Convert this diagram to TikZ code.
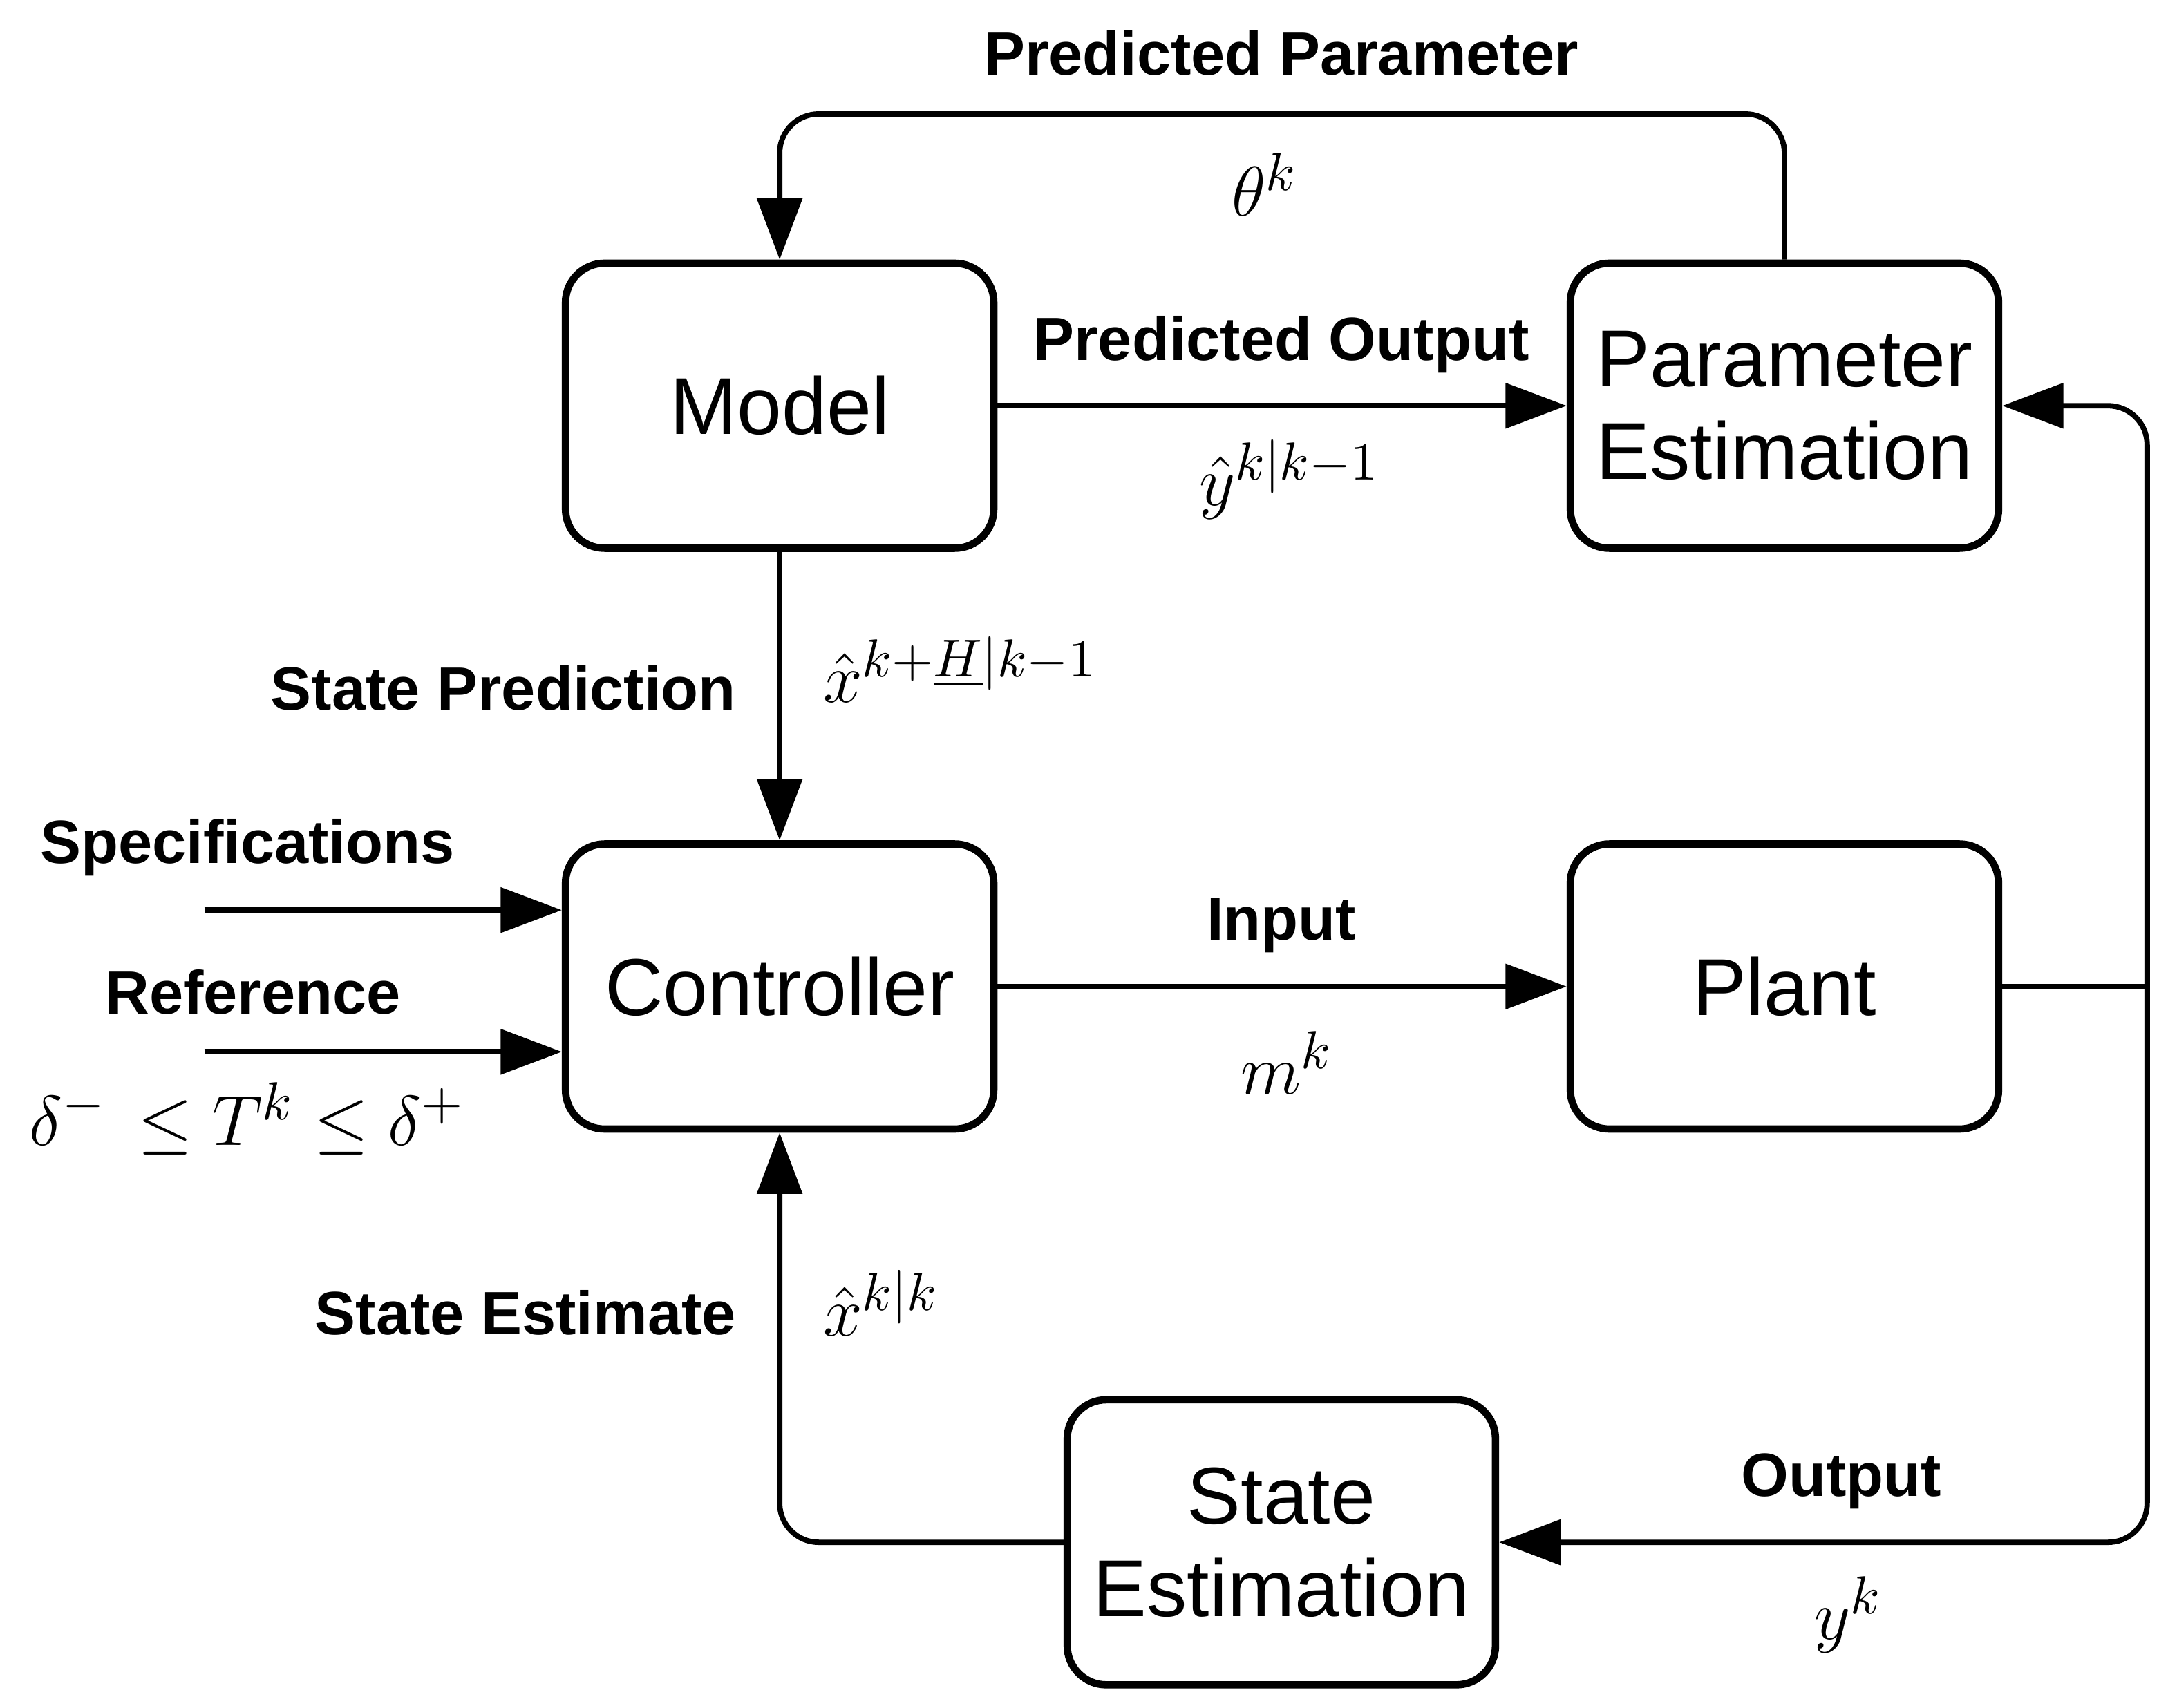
\documentclass[tikz,border=0pt]{standalone}
\usepackage{fontspec}
\setmainfont{Liberation Sans}
\usepackage{amsmath}
\usetikzlibrary{arrows.meta}

\begin{document}
\begin{tikzpicture}[
    x=0.01cm, y=-0.01cm,
    block/.style={draw, line width=1.5pt, rounded corners=8pt, minimum width=3.08cm,
        minimum height=2.05cm, inner sep=0pt, align=center, font=\fontsize{16.5}{20}\selectfont},
    lbl/.style={font=\bfseries\fontsize{12.5}{15}\selectfont},
    mth/.style={font=\fontsize{15}{18}\selectfont},
    link/.style={line width=1.1pt, rounded corners=8pt, -{Triangle[length=0.44cm,width=0.32cm]}},
    wire/.style={line width=1.1pt, rounded corners=8pt},
]
    \useasboundingbox (0,0) rectangle (1560,1229);
    % blocks
    \node [block] (model) at (561,292) {Model};
    \node [block] (param) at (1284,292) {Parameter\\[-1pt]Estimation};
    \node [block] (ctrl) at (561,710) {Controller};
    \node [block] (plant) at (1284,710) {Plant};
    \node [block] (stest) at (922,1110) {State\\[-1pt]Estimation};
    \coordinate (split) at (1545,710);
    \coordinate (spec) at (147,655);
    \coordinate (ref) at (147,757);
    % connectors
    \draw [link] (param.north) |- (561,82) -- (model.north);
    \draw [link] (model.east) -- (param.west);
    \draw [link] (model.south) -- (ctrl.north);
    \draw [link] (spec) -- (ctrl.west |- spec);
    \draw [link] (ref) -- (ctrl.west |- ref);
    \draw [link] (ctrl.east) -- (plant.west);
    \draw [wire] (plant.east) -- (split);
    \draw [link] (split) |- (param.east);
    \draw [link] (split) |- (stest.east);
    \draw [link] (stest.west) -| (ctrl.south);
    % labels
    \node [lbl] (lpp) at (922,38) {Predicted Parameter};
    \node [mth] (ltheta) at (910,133) {$\theta^k$};
    \node [lbl] (lpo) at (922,248) {Predicted Output};
    \node [mth] (lyhat) at (928,345) {$\hat{y}^{k|k-1}$};
    \node [lbl, anchor=east] (lsp) at (542,495) {State Prediction};
    \node [mth, anchor=west] (lxp) at (580,482) {$\hat{x}^{k+\underline{H}|k-1}$};
    \node [lbl] (lspec) at (178,610) {Specifications};
    \node [lbl] (lref) at (182,714) {Reference};
    \node [mth] (lcon) at (178,805) {$\delta^-\,\leq T^k\leq\delta^+$};
    \node [lbl] (lin) at (922,666) {Input};
    \node [mth] (lm) at (926,765) {$m^k$};
    \node [lbl, anchor=east] (lse) at (542,945) {State Estimate};
    \node [mth, anchor=west] (lxe) at (580,938) {$\hat{x}^{k|k}$};
    \node [lbl] (lout) at (1325,1066) {Output};
    \node [mth] (ly) at (1330,1162) {$y^k$};
\end{tikzpicture}
\end{document}
